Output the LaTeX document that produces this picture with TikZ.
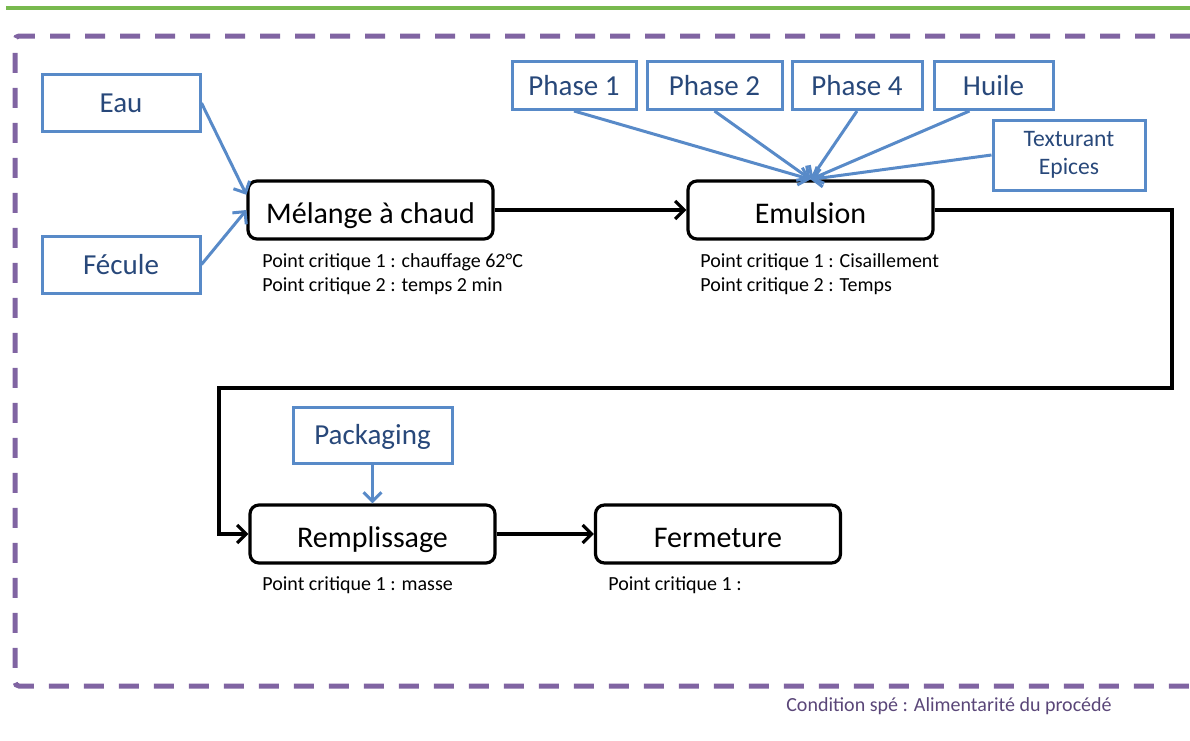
\documentclass[tikz,border=0pt]{standalone}
\usepackage{fontspec}
\setmainfont{Carlito}
\usetikzlibrary{arrows.meta}

\definecolor{boxblue}{RGB}{88,138,200}
\definecolor{txtblue}{RGB}{40,72,122}
\definecolor{framepurple}{RGB}{128,100,162}
\definecolor{notepurple}{RGB}{90,70,120}
\definecolor{topgreen}{RGB}{120,185,78}

\begin{document}
\begin{tikzpicture}[x=0.5pt,y=-0.5pt,>={Straight Barb[length=4.5pt,width=9pt]},
  feedbox/.style={draw=boxblue,line width=1.5pt,text=txtblue,inner sep=0pt},
  inbox/.style={feedbox,font=\fontsize{14.5}{17}\selectfont,minimum height=24pt,
    text height=9.8pt,text depth=0pt},
  stepbox/.style={draw,line width=1.6pt,rounded corners=4.5pt,inner sep=0pt,
    font=\fontsize{15}{18}\selectfont,minimum width=122.5pt,minimum height=29pt,
    text height=14.5pt,text depth=1.5pt},
  pcrit/.style={anchor=north west,inner sep=0pt,align=left,
    font=\fontsize{10}{12}\selectfont},
  feed/.style={->,draw=boxblue,line width=1.5pt},
  flow/.style={->,line width=1.6pt}]

  \useasboundingbox (0,0) rectangle (1190,740);

  \draw [topgreen,line width=1.6pt] (6,8) -- (1190,8);
  \draw [framepurple,line width=2.5pt,dash pattern=on 10pt off 7.5pt,rounded corners=2pt]
        (1190,36) -- (15,36) -- (15,686) -- (1190,686);

  \node (eau) at (121,103) [inbox,minimum width=79pt,minimum height=28.5pt] {Eau};
  \node (fecule) at (121,264.5) [inbox,minimum width=79pt,minimum height=28.5pt] {Fécule};
  \node (melange) at (370.5,210) [stepbox] {Mélange à chaud};
  \node (pcmel) at (262,253) [pcrit] {Point critique 1 : chauffage 62°C\\Point critique 2 : temps 2 min};

  \node (p1) at (574,85.5) [inbox,minimum width=62pt] {Phase 1};
  \node (p2) at (714.5,85.5) [inbox,minimum width=67.5pt] {Phase 2};
  \node (p4) at (857,85.5) [inbox,minimum width=65pt] {Phase 4};
  \node (huile) at (993.5,85.5) [inbox,minimum width=59.5pt] {Huile};
  \node (tex) at (1069,155) [feedbox,minimum width=76pt,minimum height=35pt,align=center,
                             font=\fontsize{11.8}{14}\selectfont] {Texturant\\Epices};
  \node (emul) at (810.5,210) [stepbox] {Emulsion};
  \node (pcemul) at (700,253) [pcrit] {Point critique 1 : Cisaillement\\Point critique 2 : Temps};

  \node (pack) at (372.5,435) [inbox,minimum width=79.5pt,minimum height=28pt] {Packaging};
  \node (rempl) at (372.5,534) [stepbox] {Remplissage};
  \node (pcrempl) at (262,576) [pcrit] {Point critique 1 : masse};
  \node (ferm) at (718,534) [stepbox] {Fermeture};
  \node (pcferm) at (608,576) [pcrit] {Point critique 1 :};

  \node (cond) at (949,706) [text=notepurple,font=\fontsize{10}{12}\selectfont] {Condition spé : Alimentarité du procédé};

  \coordinate (turnr) at (1172,388);
  \coordinate (turnl) at (219,388);

  \draw [feed] (eau.east) -- (melange.173);
  \draw [feed] (fecule.east) -- (melange.west);
  \draw [feed] (p1.south) -- (emul.north);
  \draw [feed] (p2.south) -- (emul.north);
  \draw [feed] (p4.south) -- (emul.north);
  \draw [feed] ([xshift=-12pt]huile.south) -- (emul.north);
  \draw [feed] (tex.west) -- (emul.north);
  \draw [feed] (pack.south) -- (rempl.north);

  \draw [flow] (melange.east) -- (emul.west);
  \draw [flow] (emul.east) -| (turnr) -- (turnl) |- (rempl.west);
  \draw [flow] (rempl.east) -- (ferm.west);
\end{tikzpicture}
\end{document}
